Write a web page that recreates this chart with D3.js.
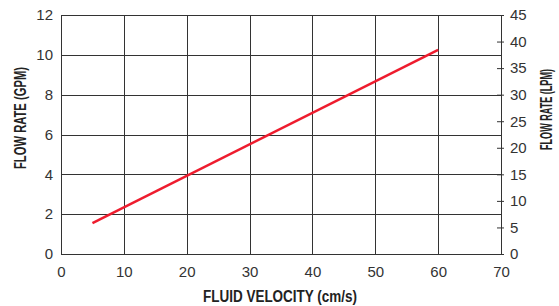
<!DOCTYPE html>
<meta charset="utf-8">
<style>
body { margin: 0; background: #fff; }
text {
  font-family: "Liberation Sans", Arial, sans-serif;
  fill: #333;
}
.tick text { font-size: 15px; }
.title { font-size: 16px; font-weight: bold; fill: #222; }
.grid line { stroke: #333; stroke-width: 1; }
.axis path, .axis line { stroke: #333; }
.flow { fill: none; stroke: #ee1c2e; stroke-width: 2.5; }
</style>
<svg width="559" height="306"></svg>
<script src="https://d3js.org/d3.v7.min.js"></script>
<script>

// data
var velocity = [5, 60];          // cm/s
var flowGpm = [1.55, 10.25];     // GPM
var xTicks = [0, 10, 20, 30, 40, 50, 60, 70];
var gpmTicks = [0, 2, 4, 6, 8, 10, 12];
var lpmTicks = [0, 5, 10, 15, 20, 25, 30, 35, 40, 45];

var svg = d3.select("svg"),
    margin = {top: 15, right: 58, bottom: 52, left: 61},
    width = +svg.attr("width") - margin.left - margin.right,
    height = +svg.attr("height") - margin.top - margin.bottom;

var x = d3.scaleLinear().domain([0, 70]).range([0, width]),
    y = d3.scaleLinear().domain([0, 12]).range([height, 0]),
    y2 = d3.scaleLinear().domain([0, 45]).range([height, 0]);

var g = svg.append("g")
    .attr("transform", "translate(" + margin.left + "," + margin.top + ")");

// grid
g.append("g").attr("class", "grid")
  .selectAll("line.v").data(xTicks).enter().append("line")
    .attr("x1", function(d) { return Math.round(x(d)) + 0.5; })
    .attr("x2", function(d) { return Math.round(x(d)) + 0.5; })
    .attr("y1", 0).attr("y2", height);

g.select(".grid")
  .selectAll("line.h").data(gpmTicks).enter().append("line")
    .attr("y1", function(d) { return Math.round(y(d)) + 0.5; })
    .attr("y2", function(d) { return Math.round(y(d)) + 0.5; })
    .attr("x1", 0).attr("x2", width);

// axes
g.append("g")
    .attr("class", "axis axis--x")
    .attr("transform", "translate(0," + height + ")")
    .call(d3.axisBottom(x).tickValues(xTicks).tickSize(0).tickPadding(12))
    .call(function(s) { s.select(".domain").remove(); });

g.append("g")
    .attr("class", "axis axis--y")
    .call(d3.axisLeft(y).tickValues(gpmTicks).tickSize(0).tickPadding(8))
    .call(function(s) { s.select(".domain").remove(); });

var right = g.append("g")
    .attr("class", "axis axis--y2")
    .attr("transform", "translate(" + width + ",0)")
    .call(d3.axisRight(y2).tickValues(lpmTicks).tickSize(3).tickPadding(6))
    .call(function(s) { s.select(".domain").remove(); });
right.selectAll(".tick line").attr("x1", -4);

// line
var line = d3.line()
    .x(function(d, i) { return x(velocity[i]); })
    .y(function(d) { return y(d); });

g.append("path")
    .datum(flowGpm)
    .attr("class", "flow")
    .attr("d", line);

// titles
svg.append("text")
    .attr("class", "title")
    .attr("x", 203)
    .attr("y", 302)
    .attr("textLength", 154)
    .attr("lengthAdjust", "spacingAndGlyphs")
    .text("FLUID VELOCITY (cm/s)");

svg.append("text")
    .attr("class", "title")
    .attr("transform", "translate(26,169) rotate(-90)")
    .attr("textLength", 102)
    .attr("lengthAdjust", "spacingAndGlyphs")
    .text("FLOW RATE (GPM)");

svg.append("text")
    .attr("class", "title")
    .attr("transform", "translate(552,150) rotate(-90)")
    .attr("textLength", 81)
    .attr("lengthAdjust", "spacingAndGlyphs")
    .text("FLOW RATE (LPM)");

</script>
